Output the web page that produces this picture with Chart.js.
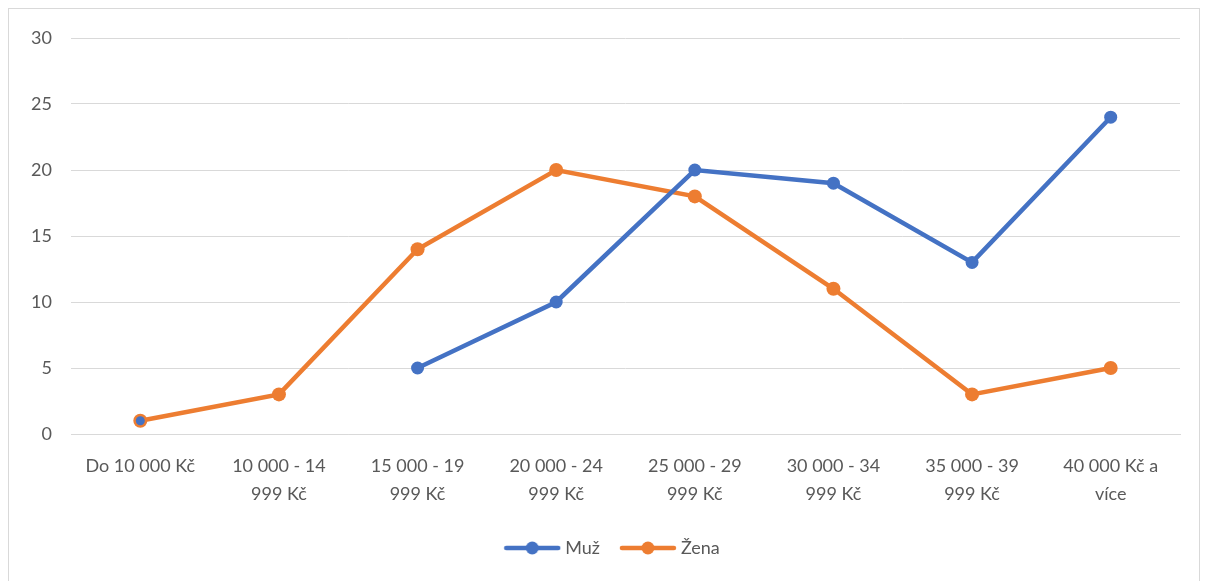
<!DOCTYPE html>
<html>
<head>
<meta charset="utf-8">
<script src="https://cdn.jsdelivr.net/npm/chart.js@4"></script>
<style>
  html, body { margin: 0; padding: 0; background: #fff; }
  #wrap { position: relative; width: 1206px; height: 581px; }
  #frame { position: absolute; left: 8px; top: 8px; width: 1192px; height: 590px; border: 1px solid #d9d9d9; box-sizing: border-box; }
  #incomeChart { position: absolute; left: 0; top: 0; }
</style>
</head>
<body>
<div id="wrap">
  <div id="frame"></div>
  <canvas id="incomeChart" width="1206" height="581"></canvas>
</div>
<script>
'use strict';

// Příjmové kategorie a počty odpovědí
const labels = [
    'Do 10 000 Kč',
    ['10 000 - 14', '999 Kč'],
    ['15 000 - 19', '999 Kč'],
    ['20 000 - 24', '999 Kč'],
    ['25 000 - 29', '999 Kč'],
    ['30 000 - 34', '999 Kč'],
    ['35 000 - 39', '999 Kč'],
    ['40 000 Kč a', 'více']
];
const muz = [1, null, 5, 10, 20, 19, 13, 24];
const zena = [1, 3, 14, 20, 18, 11, 3, 5];
const yTicks = [0, 5, 10, 15, 20, 25, 30];

const BLUE = '#4472C4';
const ORANGE = '#ED7D31';
const TEXT = '#595959';
const GRID = '#d9d9d9';

// Značka do legendy: čára s kolečkem uprostřed
function legendMarker(color) {
    const c = document.createElement('canvas');
    c.width = 58;
    c.height = 16;
    const g = c.getContext('2d');
    g.strokeStyle = color;
    g.lineWidth = 4.5;
    g.lineCap = 'round';
    g.beginPath();
    g.moveTo(3, 8);
    g.lineTo(55, 8);
    g.stroke();
    g.fillStyle = color;
    g.beginPath();
    g.arc(29, 8, 6.5, 0, Math.PI * 2);
    g.fill();
    return c;
}
const markers = [legendMarker(BLUE), legendMarker(ORANGE)];

// Legenda posunutá doprava, pod střed rámečku
const legendShift = {
    id: 'legendShift',
    afterLayout(chart) {
        chart.legend.left += 24;
        chart.legend.right += 24;
    }
};

const ctx = document.getElementById('incomeChart').getContext('2d');

new Chart(ctx, {
    type: 'line',
    data: {
        labels: labels,
        datasets: [{
            label: 'Muž',
            data: muz,
            borderColor: BLUE,
            backgroundColor: BLUE,
            borderWidth: 4.5,
            pointRadius: [4.5, 6.5, 6.5, 6.5, 6.5, 6.5, 6.5, 6.5],
            pointBorderWidth: 0,
            pointBackgroundColor: BLUE,
            spanGaps: false,
            tension: 0
        }, {
            label: 'Žena',
            data: zena,
            borderColor: ORANGE,
            backgroundColor: ORANGE,
            borderWidth: 4.5,
            pointRadius: 7,
            pointBorderWidth: 0,
            pointBackgroundColor: ORANGE,
            tension: 0
        }]
    },
    options: {
        responsive: false,
        animation: false,
        layout: {
            padding: { left: 0, right: 26, top: 38, bottom: 14 }
        },
        scales: {
            x: {
                offset: true,
                grid: { display: false, drawTicks: false },
                border: { color: GRID, width: 1 },
                afterFit: function (scale) { scale.height = 81; },
                ticks: {
                    color: TEXT,
                    font: { family: 'Lato', size: 18, lineHeight: 1.55 },
                    padding: 18,
                    maxRotation: 0,
                    autoSkip: false
                }
            },
            y: {
                min: 0,
                max: 30,
                afterFit: function (scale) { scale.width = 71; },
                afterBuildTicks: function (scale) {
                    scale.ticks = yTicks.map(v => ({ value: v }));
                },
                grid: { color: GRID, lineWidth: 1, drawTicks: false },
                border: { display: false },
                ticks: {
                    color: TEXT,
                    font: { family: 'Lato', size: 18 },
                    padding: 19
                }
            }
        },
        plugins: {
            tooltip: { enabled: false },
            legend: {
                position: 'bottom',
                labels: {
                    color: TEXT,
                    font: { family: 'Lato', size: 18 },
                    usePointStyle: true,
                    pointStyleWidth: 48,
                    padding: 24,
                    generateLabels: function (chart) {
                        const items = Chart.defaults.plugins.legend.labels.generateLabels(chart);
                        items.forEach((item, i) => { item.pointStyle = markers[i]; });
                        return items;
                    }
                }
            }
        }
    },
    plugins: [legendShift]
});
</script>
</body>
</html>
